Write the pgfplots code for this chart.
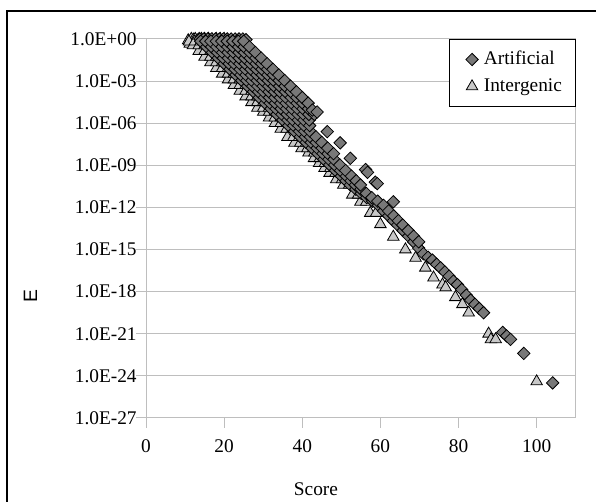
\documentclass[border=0pt]{standalone}
\usepackage{fontspec}
\setmainfont{Liberation Serif}
\setsansfont{Liberation Sans}
\usepackage{pgfplots}
\pgfplotsset{compat=1.18}
\definecolor{axgray}{RGB}{190,190,190}
\definecolor{dfill}{RGB}{120,120,120}
\definecolor{tfill}{RGB}{200,200,200}
\pgfplotsset{
 dia/.style={only marks, mark=square*, mark size=3.3pt, mark options={rotate=45, fill=dfill, draw=black, line width=0.6pt}},
 tri/.style={only marks, mark=triangle*, mark size=5pt, mark options={fill=tfill, draw=black, line width=0.6pt}},
}
\begin{document}
\begin{tikzpicture}[font=\fontsize{14.5}{17.4}\selectfont]
\useasboundingbox (0,0) rectangle (447pt,376.5pt);
\draw[line width=0.8pt] (5.25pt,-10pt) rectangle (460pt,368.25pt);
\begin{axis}[
 scale only axis, width=322.3pt, height=284.25pt, at={(109.5pt,63pt)}, anchor=south west,
 xmin=0, xmax=110, ymin=-27, ymax=0,
 xtick={0,20,40,60,80,100},
 ytick={-27,-24,-21,-18,-15,-12,-9,-6,-3,0},
 yticklabels={1.0E-27,1.0E-24,1.0E-21,1.0E-18,1.0E-15,1.0E-12,1.0E-09,1.0E-06,1.0E-03,1.0E+00},
 ymajorgrids=true, grid style={axgray, line width=0.75pt},
 axis line style={axgray, line width=0.75pt},
 major tick style={axgray, line width=0.75pt},
 tick align=outside, tick pos=left, major tick length=7.5pt,
 xticklabel style={yshift=-5.5pt},
 yticklabel style={xshift=4pt},
 /pgf/number format/assume math mode=true,
 tick label style={font=\fontsize{14.5}{17}\selectfont},
 clip=false,
 xlabel={Score}, ylabel={E},
 xlabel style={at={(axis description cs:0.3956,-0.1873)}, anchor=center, font=\fontsize{14.5}{17}\selectfont},
 ylabel style={at={(axis description cs:-0.2688,0.3206)}, anchor=center, font=\sffamily\fontsize{14.5}{17}\selectfont},
 legend style={at={(1,1)}, anchor=north east, draw=black, line width=0.75pt, fill=white,
   inner xsep=6.5pt, inner ysep=8pt, row sep=6.25pt, font=\fontsize{14.5}{17}\selectfont,
   nodes={inner xsep=3.5pt, inner ysep=0pt, text height=10.5pt, text depth=3.5pt}},
 legend cell align=left,
 legend image code/.code={\path (-5pt,0pt) (10pt,0pt); \draw[mark repeat=2,mark phase=2,#1] plot coordinates {(0pt,0pt) (5pt,0pt) (10pt,0pt)};},
]
\addlegendimage{dia}
\addlegendentry{Artificial}
% Intergenic
\addplot[tri] coordinates {
(10.8,-0.1) (11.2,-0.35) (11.6,0) (12.1,-0.05) (12.6,0) (13.1,-0.1) (13.6,0) (14.2,0) (15,0) (16,0) (17,-0.05) (18,0) (19,0) (20,0)
(11,-0.19) (12,-0.46) (13.5,-0.86) (15,-1.27) (16.5,-1.67) (18,-2.08) (19.5,-2.48) (21,-2.89) (22.5,-3.29) (24,-3.70) (25.5,-4.10) (27,-4.51) (28.5,-4.91) (30,-5.2) (31.5,-5.6) (33,-6.0) (34.5,-6.4) (36.2,-7.0) (38,-7.4) (39.8,-7.8) (41.6,-8.1) (43,-8.5) (44.3,-8.85) (45.7,-9.2) (47,-9.55) (48.7,-10.0) (50.5,-10.4) (52.8,-11.1) (54.9,-11.6) (57.4,-12.4) (60,-13.2) (63.3,-14.1) (66.4,-15.0) (69,-15.6) (71.5,-16.3) (73.6,-17.0) (75.9,-17.5) (76.7,-17.7) (79.2,-18.4) (81,-18.9) (82.6,-19.5) (87.7,-21.0) (88.3,-21.4) (89.5,-21.4) (100,-24.4)
(12.5,-0.19) (13.5,-0.46) (15,-0.86) (16.5,-1.27) (18,-1.67) (19.5,-2.08) (21,-2.48) (22.5,-2.89) (24,-3.29) (25.5,-3.70) (27,-4.10) (28.5,-4.51) (30,-4.91) (31.5,-5.2) (33,-5.6) (34.5,-6.0) (36,-6.4) (37.7,-7.0) (39.5,-7.4) (41.3,-7.8) (43.1,-8.1) (44.5,-8.5) (45.8,-8.85) (47.2,-9.2) (48.5,-9.55) (50.2,-10.0) (52,-10.4) (54.3,-11.1) (56.4,-11.6) (58.9,-12.4)
(14,-0.19) (15,-0.46) (16.5,-0.86) (18,-1.27) (19.5,-1.67) (21,-2.08) (22.5,-2.48) (24,-2.89) (25.5,-3.29) (27,-3.70) (28.5,-4.10) (30,-4.51) (31.5,-4.91) (33,-5.2) (34.5,-5.6) (36,-6.0) (37.5,-6.4) (39.2,-7.0) (41,-7.4) (42.8,-7.8) (44.6,-8.1)
(15.5,-0.19) (16.5,-0.46) (18,-0.86) (19.5,-1.27) (21,-1.67) (22.5,-2.08) (24,-2.48) (25.5,-2.89) (27,-3.29) (28.5,-3.70) (30,-4.10) (31.5,-4.51) (33,-4.91) (34.5,-5.2) (36,-5.6) (37.5,-6.0)
};
\addlegendentry{Intergenic}
% Artificial
\addplot[dia, forget plot] coordinates {
(13.8,0) (14.8,0) (15.8,0) (16.8,0) (17.8,0) (18.8,0) (19.8,0) (20.8,0) (21.8,0) (22.8,0) (23.8,0) (24.8,0) (25.6,-0.05)
(14,-0.16) (15.5,-0.56) (17,-0.96) (18.5,-1.36) (20,-1.76) (21.5,-2.16) (23,-2.56) (24.5,-2.96) (26,-3.36) (27.5,-3.76) (29,-4.17) (30.5,-4.57) (32,-4.97) (33.5,-5.37) (35,-5.77) (36.5,-6.17) (38,-6.57) (39.5,-6.97) (41,-7.37) (42.5,-7.77) (44,-8.17) (45.5,-8.57) (47,-8.97) (48.5,-9.37) (50,-9.77) (51.2,-10.1) (52.3,-10.4) (53.7,-10.7) (55.1,-11.0) (56.5,-11.3) (58,-11.55) (59.5,-11.85) (60.8,-12.25) (62.1,-12.6) (63.3,-12.95) (64.4,-13.25) (65.8,-13.65) (67.2,-14.05) (68.5,-14.45) (69.8,-14.9) (71,-15.3) (72.2,-15.55) (73.3,-15.75) (74.4,-16.05) (75.4,-16.3) (76.5,-16.6) (77.6,-16.9) (78.7,-17.25) (79.7,-17.5) (80.8,-17.85) (82,-18.25) (83.1,-18.6) (84.2,-18.9) (85.3,-19.2) (86.4,-19.5) (91.3,-20.9) (92.3,-21.15) (93.3,-21.4) (96.7,-22.4) (104.1,-24.5)
(15.3,-0.16) (16.8,-0.56) (18.3,-0.96) (19.8,-1.36) (21.3,-1.76) (22.8,-2.16) (24.3,-2.56) (25.8,-2.96) (27.3,-3.36) (28.8,-3.76) (30.3,-4.17) (31.8,-4.57) (33.3,-4.97) (34.8,-5.37) (36.3,-5.77) (37.8,-6.17) (39.3,-6.57) (40.8,-6.97) (42.3,-7.37) (43.8,-7.77) (45.3,-8.17) (46.8,-8.57) (48.3,-8.97) (49.8,-9.37) (51.3,-9.77) (52.5,-10.1) (53.6,-10.4) (55,-10.7) (56.4,-11.0) (57.8,-11.3) (59.3,-11.55) (60.8,-11.85) (62.1,-12.25) (63.4,-12.6) (64.6,-12.95) (65.7,-13.25) (67.1,-13.65) (68.5,-14.05) (69.8,-14.45)
(16.6,-0.16) (18.1,-0.56) (19.6,-0.96) (21.1,-1.36) (22.6,-1.76) (24.1,-2.16) (25.6,-2.56) (27.1,-2.96) (28.6,-3.36) (30.1,-3.76) (31.6,-4.17) (33.1,-4.57) (34.6,-4.97) (36.1,-5.37) (37.6,-5.77) (39.1,-6.17) (40.6,-6.57) (42.1,-6.97) (43.6,-7.37) (45.1,-7.77) (46.6,-8.17) (48.1,-8.57) (49.6,-8.97) (51.1,-9.37) (52.6,-9.77) (53.8,-10.1) (54.9,-10.4)
(18,-0.16) (19.5,-0.56) (21,-0.96) (22.5,-1.36) (24,-1.76) (25.5,-2.16) (27,-2.56) (28.5,-2.96) (30,-3.36) (31.5,-3.76) (33,-4.17) (34.5,-4.57) (36,-4.97) (37.5,-5.37) (39,-5.77) (40.5,-6.17) (42,-6.57) (43.5,-6.97) (45,-7.37) (46.5,-7.77) (48,-8.17)
(19.4,-0.16) (20.9,-0.56) (22.4,-0.96) (23.9,-1.36) (25.4,-1.76) (26.9,-2.16) (28.4,-2.56) (29.9,-2.96) (31.4,-3.36) (32.9,-3.76) (34.4,-4.17) (35.9,-4.57) (37.4,-4.97) (38.9,-5.37) (40.4,-5.77) (41.9,-6.17)
(20.8,-0.16) (22.3,-0.56) (23.8,-0.96) (25.3,-1.36) (26.8,-1.76) (28.3,-2.16) (29.8,-2.56) (31.3,-2.96) (32.8,-3.36) (34.3,-3.76) (35.8,-4.17) (37.3,-4.57) (38.8,-4.97) (40.3,-5.37) (41.8,-5.77)
(22.2,-0.16) (23.7,-0.56) (25.2,-0.96) (26.7,-1.36) (28.2,-1.76) (29.7,-2.16) (31.2,-2.56) (32.7,-2.96) (34.2,-3.36) (35.7,-3.76) (37.2,-4.17) (38.7,-4.57) (40.2,-4.97) (41.7,-5.37)
(23.6,-0.16) (25.1,-0.56) (26.6,-0.96) (28.1,-1.36) (29.6,-1.76) (31.1,-2.16) (32.6,-2.56) (34.1,-2.96) (35.6,-3.36) (37.1,-3.76) (38.6,-4.17) (40.1,-4.57) (41.6,-4.97) (43.1,-5.37)
(25,-0.16) (26.5,-0.56) (28,-0.96) (29.5,-1.36) (31,-1.76) (32.5,-2.16) (34,-2.56) (35.5,-2.96) (37,-3.36) (38.5,-3.76) (40,-4.17) (41.5,-4.57) (42.6,-5.06) (43.8,-5.2)
(46.4,-6.6) (49.7,-7.4) (52.3,-8.5) (56.2,-9.3) (56.7,-9.5) (58.7,-10.2) (59.2,-10.3) (63.3,-11.6)
};
\end{axis}
\end{tikzpicture}
\end{document}
